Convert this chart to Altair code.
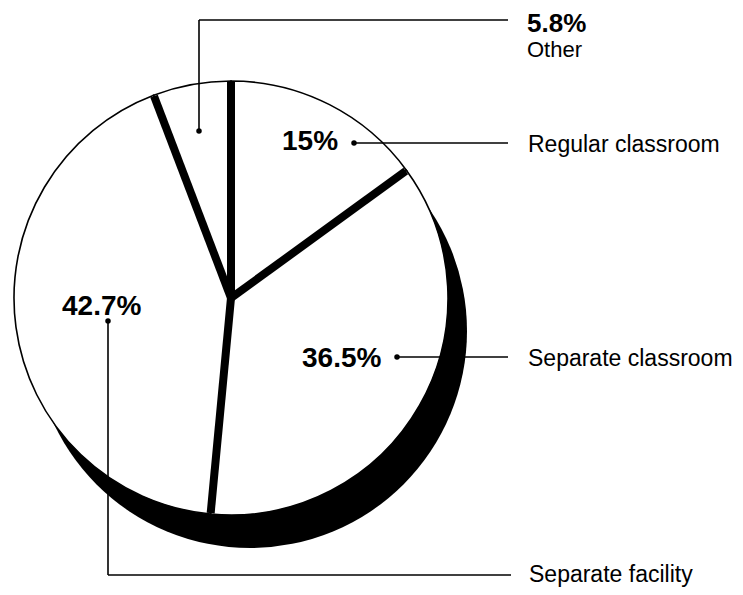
import math
import altair as alt
import pandas as pd

# ---- data ----
categories = ["Regular classroom", "Separate classroom", "Separate facility", "Other"]
values = [15.0, 36.5, 42.7, 5.8]

# ---- layout (chart pixel coordinates) ----
CX, CY, R = 223, 290, 217
SHADOW_DX, SHADOW_DY = 19, 33
SEP_WIDTH = 8

# leader paths per category: dot first, then corners, then end next to label
leader_paths = [
    [(346, 135), (500, 135)],
    [(389, 349), (500, 349)],
    [(100, 313), (100, 567), (503, 567)],
    [(191, 123), (191, 12), (500, 12)],
]
name_pos = [(520, 144), (520, 358), (521, 574), (519, 49)]
name_size = [23, 23, 23, 22]
pct_pos = [(274, 142), (294, 359), (54, 307), (519, 24)]
pct_size = [28, 28, 28, 26]

FONT = "Liberation Sans"

df = pd.DataFrame({"category": categories, "value": values, "idx": list(range(len(values)))})

# shadow (full disc offset down-right)
shadow = alt.Chart(pd.DataFrame({"k": [0]})).mark_arc(
    theta=0, theta2=2 * math.pi, radius=R, color="black"
).encode(x=alt.value(CX + SHADOW_DX), y=alt.value(CY + SHADOW_DY))

# white slices with thin outline
slices = alt.Chart(df).mark_arc(
    radius=R, fill="white", stroke="black", strokeWidth=1.6
).encode(
    theta=alt.Theta("value:Q", stack=True),
    order=alt.Order("idx:Q"),
    x=alt.value(CX),
    y=alt.value(CY),
)

# thick separators at slice boundaries (derived from cumulative values)
seps = alt.Chart(df).transform_window(
    cum="sum(value)", sort=[alt.SortField("idx", order="ascending")], frame=[None, 0]
).transform_joinaggregate(total="sum(value)").transform_calculate(
    ang="2*PI*datum.cum/datum.total",
    xs=str(CX),
    ys=str(CY),
    xe=f"{CX}+{R - 1}*sin(datum.ang)",
    ye=f"{CY}-{R - 1}*cos(datum.ang)",
).mark_rule(color="black", strokeWidth=SEP_WIDTH, strokeCap="butt").encode(
    x=alt.X("xs:Q", scale=None, axis=None),
    y=alt.Y("ys:Q", scale=None, axis=None),
    x2="xe:Q",
    y2="ye:Q",
)

# leader lines
seg_rows = []
for cat, path in zip(categories, leader_paths):
    for (x1, y1), (x2, y2) in zip(path[:-1], path[1:]):
        seg_rows.append({"category": cat, "x": x1, "y": y1, "x2": x2, "y2": y2})
segs = alt.Chart(pd.DataFrame(seg_rows)).mark_rule(color="black", strokeWidth=1.6).encode(
    x=alt.X("x:Q", scale=None, axis=None),
    y=alt.Y("y:Q", scale=None, axis=None),
    x2="x2:Q",
    y2="y2:Q",
)

dots_df = pd.DataFrame({
    "category": categories,
    "x": [p[0][0] for p in leader_paths],
    "y": [p[0][1] for p in leader_paths],
})
dots = alt.Chart(dots_df).mark_circle(color="black", opacity=1, size=30).encode(
    x=alt.X("x:Q", scale=None, axis=None),
    y=alt.Y("y:Q", scale=None, axis=None),
)

names_df = pd.DataFrame({
    "text": categories,
    "x": [p[0] for p in name_pos],
    "y": [p[1] for p in name_pos],
    "size": name_size,
})
names = alt.Chart(names_df).mark_text(
    font=FONT, align="left", baseline="alphabetic", color="black"
).encode(
    x=alt.X("x:Q", scale=None, axis=None),
    y=alt.Y("y:Q", scale=None, axis=None),
    text="text:N",
    size=alt.Size("size:Q", scale=None, legend=None),
)

pct_df = pd.DataFrame({
    "text": [f"{v:g}%" for v in values],
    "x": [p[0] for p in pct_pos],
    "y": [p[1] for p in pct_pos],
    "size": pct_size,
})
pcts = alt.Chart(pct_df).mark_text(
    font=FONT, fontWeight="bold", align="left", baseline="alphabetic", color="black"
).encode(
    x=alt.X("x:Q", scale=None, axis=None),
    y=alt.Y("y:Q", scale=None, axis=None),
    text="text:N",
    size=alt.Size("size:Q", scale=None, legend=None),
)

chart = alt.layer(shadow, slices, seps, segs, dots, names, pcts).properties(
    width=727, height=579, padding=0, autosize="none", background="white"
).configure_view(stroke=None)

chart.save("out.html", embed_options={"renderer": "svg", "actions": False})
